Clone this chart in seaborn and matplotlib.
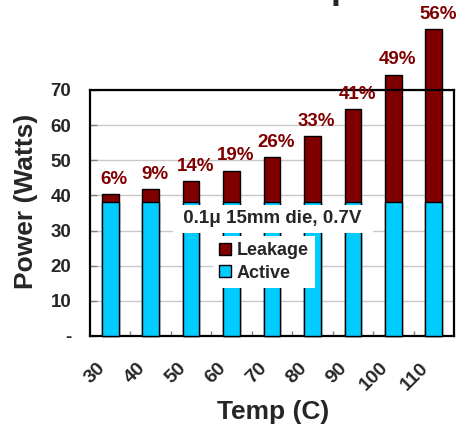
import matplotlib
matplotlib.use("Agg")
import matplotlib.pyplot as plt
from matplotlib.patches import Patch
from matplotlib.transforms import ScaledTranslation
from matplotlib.ticker import FixedLocator
import seaborn as sns
import pandas as pd

# ---- data ----
temps = ["30", "40", "50", "60", "70", "80", "90", "100", "110"]
active = [38, 38, 38, 38, 38, 38, 38, 38, 38]
leakage = [2.4, 3.7, 6.0, 9.0, 12.9, 18.8, 26.6, 36.3, 49.3]
pct_labels = ["6%", "9%", "14%", "19%", "26%", "33%", "41%", "49%", "56%"]
y_ticks = [0, 10, 20, 30, 40, 50, 60, 70]
y_tick_labels = ["-", "10", "20", "30", "40", "50", "60", "70"]

LEAK_C = "#800000"
ACT_C = "#00CCFF"

sns.set_style("white")
plt.rcParams["font.family"] = ["Liberation Sans", "DejaVu Sans"]

df = pd.DataFrame({"temp": temps, "active": active, "leakage": leakage})
df["total"] = df["active"] + df["leakage"]

fig = plt.figure(figsize=(4.58, 4.25), dpi=100)
ax = fig.add_axes([90 / 458, 1 - 336 / 425, 364 / 458, 246 / 425])

sns.barplot(data=df, x="temp", y="total", color=LEAK_C, saturation=1,
            width=0.41, edgecolor="black", linewidth=1, ax=ax, zorder=2)
sns.barplot(data=df, x="temp", y="active", color=ACT_C, saturation=1,
            width=0.41, edgecolor="black", linewidth=1, ax=ax, zorder=3)
for p in ax.patches:
    p.set_clip_on(False)

ax.set_xlim(-0.5, len(temps) - 0.5)
ax.set_ylim(0, 70)
ax.set_axisbelow(True)

# y axis
ax.set_yticks(y_ticks)
ax.set_yticklabels(y_tick_labels, fontsize=13.5, fontweight="bold")
ax.tick_params(axis="y", direction="in", length=5, width=1, color="#808080",
               pad=13.5, left=True)
ax.yaxis.grid(True, color="#c8c8c8", linewidth=1)

# x axis
ax.set_xticks(range(len(temps)))
ax.set_xticklabels(temps, fontsize=14, fontweight="bold")
ax.tick_params(axis="x", which="major", length=0, pad=21)
ax.xaxis.set_minor_locator(FixedLocator([i + 0.5 for i in range(len(temps) - 1)]))
ax.tick_params(axis="x", which="minor", direction="in", length=3.6, width=1,
               color="#808080", bottom=True)
off = ScaledTranslation(-8 / 100, 0, fig.dpi_scale_trans)
for lab in ax.get_xticklabels():
    lab.set_rotation(45)
    lab.set_ha("right")
    lab.set_va("center")
    lab.set_rotation_mode("anchor")
    lab.set_transform(lab.get_transform() + off)

for s in ax.spines.values():
    s.set_visible(True)
    s.set_color("black")
    s.set_linewidth(1.6)

ax.set_xlabel("Temp (C)", fontsize=19, fontweight="bold", va="baseline")
ax.xaxis.set_label_coords(0.504, -0.337)
ax.set_ylabel("Power (Watts)", fontsize=19, fontweight="bold", va="center")
ax.yaxis.set_label_coords(-0.176, 0.547)

# percentage labels
for i, (a, l, t) in enumerate(zip(active, leakage, pct_labels)):
    ax.annotate(t, xy=(i, a + l), xytext=(3, 7.5), textcoords="offset points",
                ha="center", va="baseline", fontsize=13.5, fontweight="bold",
                color=LEAK_C, annotation_clip=False)

# note box
ax.text(0.502, 0.477, " 0.1\u03bc 15mm die, 0.7V ", transform=ax.transAxes,
        ha="center", va="center", fontsize=13.5, fontweight="bold",
        zorder=6, bbox=dict(boxstyle="square,pad=0.3", fc="white", ec="none"))

# legend
handles = [Patch(facecolor=LEAK_C, edgecolor="black", label="Leakage"),
           Patch(facecolor=ACT_C, edgecolor="black", label="Active")]
leg = ax.legend(handles=handles, loc="upper left",
                bbox_to_anchor=(213 / 458, 1 - 236 / 425),
                bbox_transform=fig.transFigure,
                prop={"size": 13, "weight": "bold"},
                frameon=True, fancybox=False, edgecolor="none",
                framealpha=1, borderpad=0.35, borderaxespad=0,
                handlelength=0.64, handleheight=0.64, handletextpad=0.3,
                labelspacing=0.3)
leg.set_zorder(7)

# cut-off title fragment at top of figure
fig.text(331 / 458, 1.0 + 2.5 / 425, "p", fontsize=26, fontweight="bold",
         ha="left", va="baseline")

fig.savefig("out.png", dpi=100)
